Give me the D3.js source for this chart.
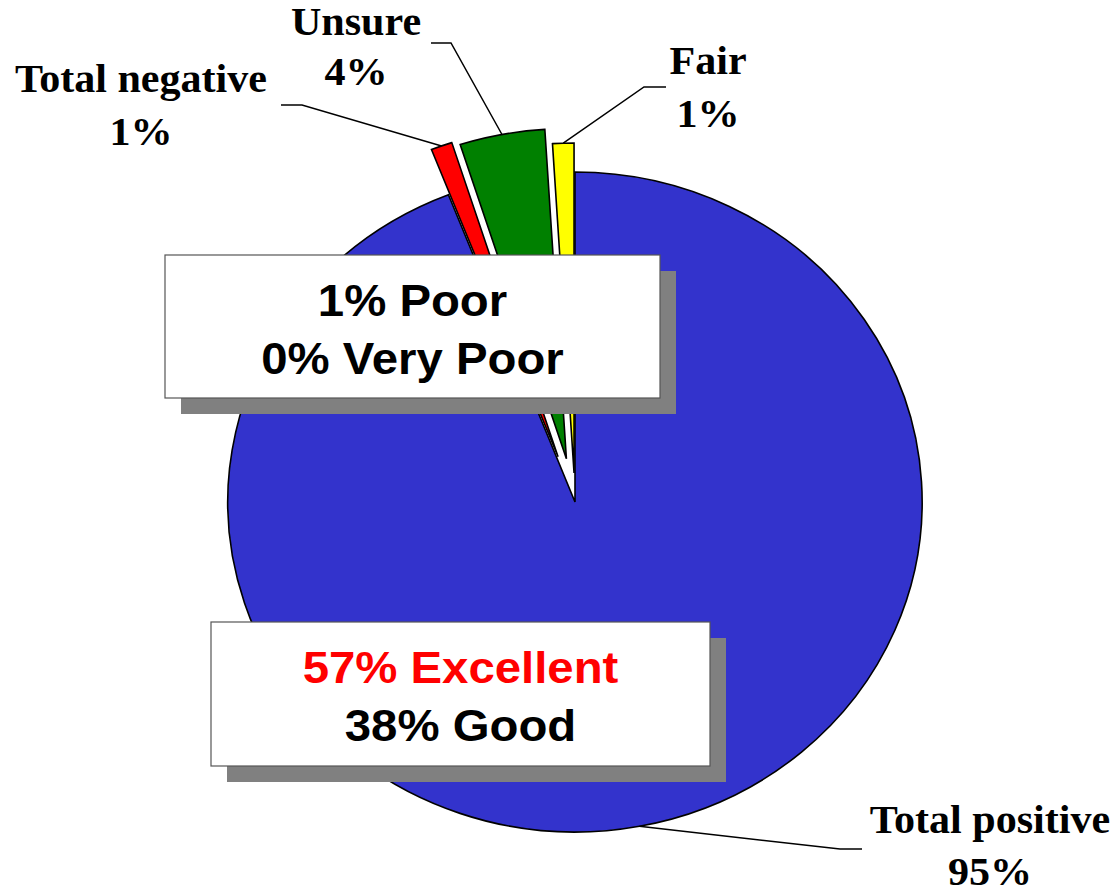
<!DOCTYPE html>
<html lang="en">
<head>
<meta charset="utf-8">
<title>Pie chart</title>
<script src="https://cdn.jsdelivr.net/npm/d3@7"></script>
<style>
  body { margin: 0; background: #fff; }
  svg { display: block; }
</style>
</head>
<body>
<svg id="chart"></svg>
<script>
// data
var categories = ["Total positive", "Total negative", "Unsure", "Fair"];
var values = [95, 1, 4, 1];
var percentLabels = ["95%", "1%", "4%", "1%"];
var negativeDetail = ["1% Poor", "0% Very Poor"];
var positiveDetail = ["57% Excellent", "38% Good"];

// layout / style
var width = 1118, height = 894;
var cx = 575, cy = 502, radius = 330, stretch = 1.052;
var colors = ["#3333cc", "#ff0000", "#008000", "#ffff00"];
var explode = [0, 48, 44, 29];
// label anchor (x centre, first baseline), line gap, elbow of the leader line
var labelPos = [
  {x: 990, y: 833, gap: 52, elbow: [840, 849], end: [862, 849]},
  {x: 141, y: 92, gap: 53, elbow: [302, 105], end: [281, 105]},
  {x: 356, y: 35, gap: 50, elbow: [451, 43], end: [431, 43]},
  {x: 708, y: 74, gap: 53, elbow: [644, 87], end: [666, 87]}
];

var svg = d3.select("#chart").attr("width", width).attr("height", height);

var pie = d3.pie().sort(null).startAngle(0).endAngle(2 * Math.PI);
var arcs = pie(values);
var arc = d3.arc().innerRadius(0).outerRadius(radius);

var pieG = svg.append("g")
  .attr("transform", "translate(" + cx + "," + cy + ") scale(" + stretch + ",1)");

pieG.selectAll("path")
  .data(arcs)
  .enter()
  .append("path")
  .attr("d", arc)
  .attr("fill", function(d, i) { return colors[i]; })
  .attr("stroke", "#000")
  .attr("stroke-width", 1.6)
  .attr("vector-effect", "non-scaling-stroke")
  .attr("transform", function(d, i) {
    var a = (d.startAngle + d.endAngle) / 2;
    return "translate(" + (Math.sin(a) * explode[i]) + "," + (-Math.cos(a) * explode[i]) + ")";
  });

// leader lines: from the outer arc at the slice middle to the label
function anchor(d, i) {
  var a = (d.startAngle + d.endAngle) / 2;
  var r = radius + explode[i];
  return [cx + Math.sin(a) * r * stretch, cy - Math.cos(a) * r];
}

svg.selectAll("polyline.leader")
  .data(arcs)
  .enter()
  .append("polyline")
  .attr("class", "leader")
  .attr("fill", "none")
  .attr("stroke", "#000")
  .attr("stroke-width", 1.5)
  .attr("points", function(d, i) {
    var p = anchor(d, i);
    return [p, labelPos[i].elbow, labelPos[i].end].map(function(q) { return q.join(","); }).join(" ");
  });

var labels = svg.selectAll("g.label")
  .data(arcs)
  .enter()
  .append("g")
  .attr("class", "label")
  .attr("transform", function(d, i) {
    return "translate(" + labelPos[i].x + "," + labelPos[i].y + ") scale(" + stretch + ",1)";
  })
  .style("font-family", "'Liberation Serif', 'Times New Roman', serif")
  .style("font-weight", "bold")
  .style("font-size", "40px")
  .attr("text-anchor", "middle");

labels.append("text").text(function(d, i) { return categories[i]; });
labels.append("text").attr("y", function(d, i) { return labelPos[i].gap; })
  .text(function(d, i) { return percentLabels[i]; });

// detail boxes with drop shadows
function detailBox(lines, x, y, w, h, lineColors) {
  var g = svg.append("g");
  g.append("rect")
    .attr("x", x + 16).attr("y", y + 16)
    .attr("width", w).attr("height", h)
    .attr("fill", "#808080");
  g.append("rect")
    .attr("x", x).attr("y", y)
    .attr("width", w).attr("height", h)
    .attr("fill", "#fff")
    .attr("stroke", "#555")
    .attr("stroke-width", 1.2);
  var t = g.append("g")
    .attr("transform", "translate(" + (x + w / 2) + "," + (y + 61) + ") scale(" + stretch + ",1)")
    .style("font-family", "'Liberation Sans', Arial, sans-serif")
    .style("font-weight", "bold")
    .style("font-size", "45px")
    .attr("text-anchor", "middle");
  t.selectAll("text")
    .data(lines)
    .enter()
    .append("text")
    .attr("y", function(d, i) { return i * 58; })
    .attr("fill", function(d, i) { return lineColors[i]; })
    .text(function(d) { return d; });
}

detailBox(negativeDetail, 165, 255, 495, 143, ["#000", "#000"]);
detailBox(positiveDetail, 211, 622, 499, 144, ["#ff0000", "#000"]);
</script>
</body>
</html>
